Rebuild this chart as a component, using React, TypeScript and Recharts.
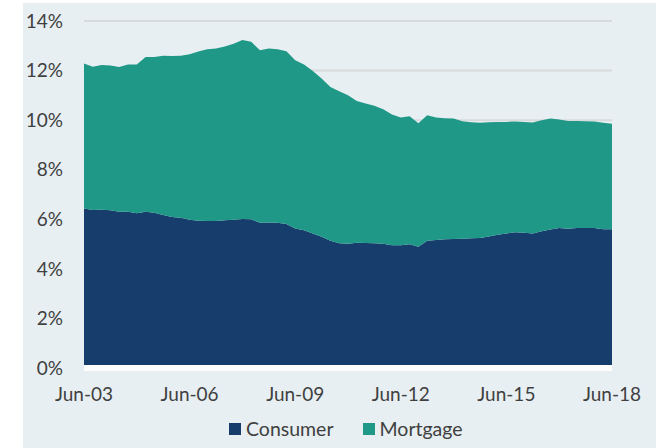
import React from 'react';
import { AreaChart, Area, XAxis, YAxis, CartesianGrid, Legend, ReferenceLine } from 'recharts';

const QUARTER_MONTHS = ['Jun', 'Sep', 'Dec', 'Mar'];
const START_YEAR = 3;
const QUARTER_COUNT = 61;

const CONSUMER = [
  6.44, 6.37, 6.38, 6.36, 6.30, 6.30, 6.24, 6.30, 6.26, 6.17,
  6.09, 6.06, 5.98, 5.94, 5.93, 5.93, 5.96, 5.98, 6.01, 6.00,
  5.86, 5.87, 5.86, 5.81, 5.63, 5.56, 5.43, 5.30, 5.13, 5.03,
  5.01, 5.05, 5.04, 5.03, 5.01, 4.95, 4.95, 4.99, 4.89, 5.13,
  5.16, 5.19, 5.20, 5.21, 5.23, 5.25, 5.31, 5.38, 5.43, 5.48,
  5.46, 5.43, 5.52, 5.59, 5.65, 5.62, 5.65, 5.65, 5.65, 5.60, 5.60,
];

const MORTGAGE = [
  5.85, 5.78, 5.84, 5.84, 5.84, 5.95, 6.01, 6.25, 6.29, 6.43,
  6.50, 6.54, 6.68, 6.83, 6.93, 6.96, 7.01, 7.10, 7.22, 7.16,
  6.96, 7.02, 7.00, 6.97, 6.79, 6.69, 6.55, 6.38, 6.21, 6.14,
  5.99, 5.72, 5.63, 5.55, 5.43, 5.28, 5.16, 5.17, 4.98, 5.07,
  4.95, 4.89, 4.87, 4.75, 4.69, 4.64, 4.60, 4.55, 4.50, 4.47,
  4.47, 4.47, 4.48, 4.48, 4.38, 4.35, 4.32, 4.31, 4.30, 4.29, 4.25,
];

const X_TICKS = ['Jun-03', 'Jun-06', 'Jun-09', 'Jun-12', 'Jun-15', 'Jun-18'];
const Y_TICKS = [0, 2, 4, 6, 8, 10, 12, 14];

const SERIES = [
  { key: 'consumer', name: 'Consumer', color: '#173d6c' },
  { key: 'mortgage', name: 'Mortgage', color: '#1f9888' },
];

const CATEGORIES: string[] = [];
for (let i = 0; i < QUARTER_COUNT; i++) {
  const m = QUARTER_MONTHS[i % 4];
  const y = START_YEAR + Math.floor((i + 1) / 4);
  CATEGORIES.push(`${m}-${String(y).padStart(2, '0')}`);
}

const data = CATEGORIES.map((label, i) => ({
  label,
  consumer: CONSUMER[i],
  mortgage: MORTGAGE[i],
}));

const FONT = 'Lato, "Open Sans", sans-serif';
const TEXT = '#404040';

const LegendContent = () => (
  <div style={{ display: 'flex', alignItems: 'center', fontFamily: FONT, fontSize: 19.5, lineHeight: '22px', color: TEXT, whiteSpace: 'nowrap' }}>
    {SERIES.map((s, i) => (
      <div key={s.key} style={{ display: 'flex', alignItems: 'center', marginRight: i === 0 ? 29 : 0 }}>
        <span style={{ display: 'inline-block', width: 12, height: 12, background: s.color, marginRight: 5 }} />
        <span>{s.name}</span>
      </div>
    ))}
  </div>
);

export default function App() {
  return (
    <div style={{ position: 'absolute', left: 0, top: 0, width: 660, height: 448, overflow: 'hidden', background: '#ffffff' }}>
      <div style={{ position: 'absolute', left: 23, top: 3, width: 633, height: 445, background: '#e7eff2' }} />
      <div style={{ position: 'absolute', left: 0, top: 0 }}>
        <AreaChart width={660} height={448} data={data} margin={{ top: 21, right: 48, bottom: 50, left: 0 }}>
          <CartesianGrid vertical={false} stroke="#d8dbdc" strokeWidth={2} />
          <YAxis
            domain={[0, 14]}
            ticks={Y_TICKS}
            width={84}
            axisLine={false}
            tickLine={false}
            tickSize={0}
            tickMargin={21}
            tickFormatter={(v: number) => `${v}%`}
            tick={{ fill: TEXT, fontSize: 19, fontFamily: FONT }}
          />
          <Area
            type="linear"
            dataKey="consumer"
            name="Consumer"
            stackId="a"
            stroke="none"
            fill={SERIES[0].color}
            fillOpacity={1}
            isAnimationActive={false}
          />
          <Area
            type="linear"
            dataKey="mortgage"
            name="Mortgage"
            stackId="a"
            stroke="none"
            fill={SERIES[1].color}
            fillOpacity={1}
            isAnimationActive={false}
          />
          <ReferenceLine y={0} stroke="#ffffff" strokeWidth={6} />
          <XAxis
            dataKey="label"
            ticks={X_TICKS}
            interval={0}
            height={30}
            axisLine={false}
            tickLine={false}
            tickSize={0}
            tickMargin={20}
            tick={{ fill: TEXT, fontSize: 19, fontFamily: FONT }}
          />
          <Legend
            layout="horizontal"
            verticalAlign="middle"
            align="center"
            content={LegendContent}
            wrapperStyle={{ left: 229, top: 418, width: 'auto' }}
          />
        </AreaChart>
      </div>
    </div>
  );
}
